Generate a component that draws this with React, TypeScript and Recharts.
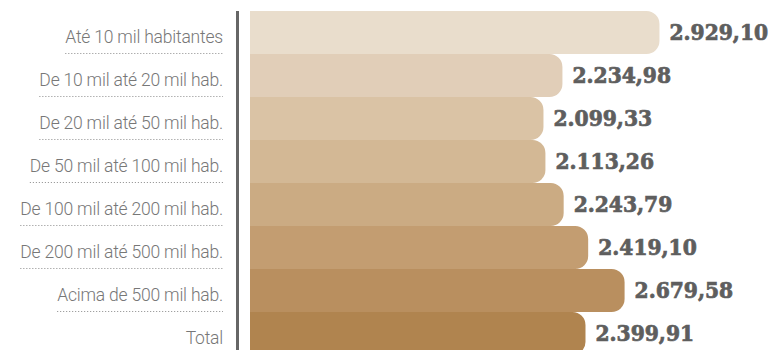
import { useLayoutEffect, useRef, useState } from "react";
import { BarChart, Bar, XAxis, YAxis, Cell, LabelList } from "recharts";

const faixas = [
  "Até 10 mil habitantes",
  "De 10 mil até 20 mil hab.",
  "De 20 mil até 50 mil hab.",
  "De 50 mil até 100 mil hab.",
  "De 100 mil até 200 mil hab.",
  "De 200 mil até 500 mil hab.",
  "Acima de 500 mil hab.",
  "Total",
];

const valores = [2929.1, 2234.98, 2099.33, 2113.26, 2243.79, 2419.1, 2679.58, 2399.91];

const cores = ["#E9DDCC", "#E1CEB8", "#DAC3A5", "#D3B895", "#CBAB83", "#C39D71", "#B98F5F", "#B0844F"];

const data = faixas.map((name, i) => ({ name, value: valores[i] }));

// 2929.1 -> "2.929,10"
function fmt(v: number) {
  const [int, dec] = v.toFixed(2).split(".");
  return int.replace(/\B(?=(\d{3})+(?!\d))/g, ".") + "," + dec;
}

function LabelTick({ x, y, payload }: { x?: number; y?: number; payload?: { value: string } }) {
  const ref = useRef<SVGTextElement>(null);
  const [w, setW] = useState(0);
  useLayoutEffect(() => {
    if (ref.current) setW(ref.current.getComputedTextLength());
  }, [payload?.value]);
  const tx = x ?? 0;
  const ty = y ?? 0;
  return (
    <g>
      <text
        ref={ref}
        x={tx}
        y={ty + 10.5}
        textAnchor="end"
        fill="#777"
        style={{ fontFamily: "Roboto, sans-serif", fontWeight: 300, fontSize: 17.5, letterSpacing: -0.2 }}
      >
        {payload?.value}
      </text>
      {w > 0 && (
        <line
          x1={tx - w}
          x2={tx}
          y1={ty + 21}
          y2={ty + 21}
          stroke="#8a8a8a"
          strokeWidth={1}
          strokeDasharray="1 2"
        />
      )}
    </g>
  );
}

export default function App() {
  return (
    <div style={{ position: "absolute", top: 0, left: 0, width: 778, height: 350, overflow: "hidden", background: "#fff" }}>
      <BarChart
        width={778}
        height={355}
        data={data}
        layout="vertical"
        margin={{ top: 11, right: 0, bottom: 0, left: 0 }}
        barCategoryGap={0}
      >
        <XAxis type="number" hide domain={[-89.4, 3777]} allowDataOverflow />
        <YAxis
          type="category"
          dataKey="name"
          width={237.5}
          axisLine={{ stroke: "#666", strokeWidth: 3 }}
          tickLine={false}
          tickSize={0}
          tickMargin={14.5}
          interval={0}
          tick={<LabelTick />}
        />
        <Bar dataKey="value" radius={[0, 13, 13, 0]} isAnimationActive={false}>
          {data.map((d, i) => (
            <Cell key={d.name} fill={cores[i]} />
          ))}
          <LabelList
            dataKey="value"
            position="right"
            offset={10}
            formatter={(v: number) => fmt(v)}
            fill="#5e5e5e"
            stroke="#5e5e5e"
            strokeWidth={0.7}
            style={{
              fontFamily: "'DejaVu Serif Condensed', 'DejaVu Serif', serif",
              fontStretch: "condensed",
              fontWeight: 700,
              fontSize: 22.5,
            }}
          />
        </Bar>
      </BarChart>
    </div>
  );
}
